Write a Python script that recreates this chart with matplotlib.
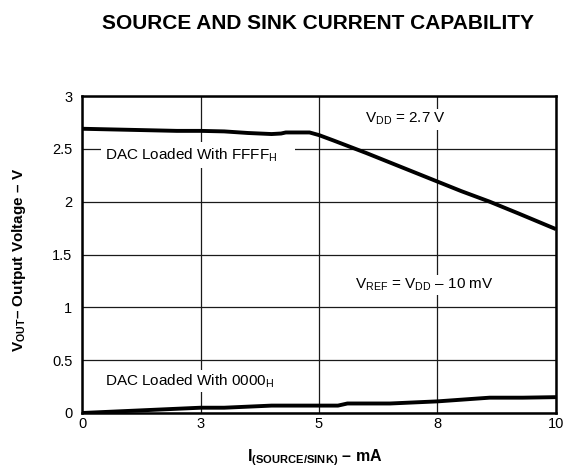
import matplotlib
matplotlib.use("Agg")
import matplotlib.pyplot as plt

plt.rcParams['font.family'] = ['Liberation Sans', 'DejaVu Sans']
plt.rcParams['mathtext.fontset'] = 'custom'
plt.rcParams['mathtext.rm'] = 'Liberation Sans'
plt.rcParams['mathtext.it'] = 'Liberation Sans:italic'
plt.rcParams['mathtext.bf'] = 'Liberation Sans:bold'

# output voltage vs load current, DAC at full scale (FFFFh)
i_high = [0, 1, 2, 2.5, 3, 3.5, 4, 4.2, 4.3, 4.8, 5.0, 5.3, 5.65, 6.0, 6.5,
          7.0, 7.5, 8.0, 8.6, 9.2, 10]
v_high = [2.69, 2.68, 2.67, 2.67, 2.665, 2.65, 2.64, 2.645, 2.655, 2.655, 2.63,
          2.58, 2.52, 2.46, 2.37, 2.28, 2.19, 2.10, 2.00, 1.89, 1.74]

# output voltage vs load current, DAC at zero scale (0000h)
i_low = [0, 1, 2, 2.5, 3, 4, 5, 5.4, 5.6, 6.5, 7.5, 8.6, 9.3, 10]
v_low = [0.0, 0.02, 0.04, 0.05, 0.05, 0.07, 0.07, 0.07, 0.09, 0.09, 0.11,
         0.145, 0.145, 0.15]

x_ticks = [0, 2.5, 5, 7.5, 10]
x_tick_labels = ['0', '3', '5', '8', '10']
y_ticks = [0, 0.5, 1, 1.5, 2, 2.5, 3]
y_tick_labels = ['0', '0.5', '1', '1.5', '2', '2.5', '3']

fig = plt.figure(figsize=(5.64, 4.72), dpi=100)
ax = fig.add_axes([0.1454, 0.125, 0.8404, 0.6716])

ax.plot(i_high, v_high, color='black', lw=2.8, solid_capstyle='butt', zorder=3)
ax.plot(i_low, v_low, color='black', lw=2.8, solid_capstyle='butt', zorder=3)

ax.set_xlim(0, 10)
ax.set_ylim(0, 3)
ax.set_xticks(x_ticks)
ax.set_xticklabels(x_tick_labels)
ax.set_yticks(y_ticks)
ax.set_yticklabels(y_tick_labels)
ax.tick_params(length=0, labelsize=10.5, pad=3)
ax.tick_params(axis='y', pad=7)
ax.grid(True, color='#1a1a1a', lw=0.9)
ax.set_axisbelow(True)
for s in ax.spines.values():
    s.set_linewidth(1.8)

box = dict(facecolor='white', edgecolor='none', pad=1.5)
ax.text(0.48, 2.44, 'DAC Loaded With FFFF$_\\mathrm{H}$    ', fontsize=11,
        va='center', ha='left', bbox=dict(facecolor='white', edgecolor='none', pad=3), zorder=2)
ax.text(5.97, 2.78, 'V$_\\mathrm{DD}$ = 2.7 V', fontsize=11,
        va='center', ha='left', bbox=box, zorder=2)
ax.text(5.76, 1.21, 'V$_\\mathrm{REF}$ = V$_\\mathrm{DD}$ \u2013 10 mV', fontsize=11,
        va='center', ha='left', bbox=box, zorder=2)
ax.text(0.48, 0.30, 'DAC Loaded With 0000$_\\mathrm{H}$', fontsize=11,
        va='center', ha='left', bbox=box, zorder=2)

fig.text(0.564, 0.951, 'SOURCE AND SINK CURRENT CAPABILITY', fontsize=15,
         fontweight='bold', ha='center', va='center')
fig.text(0.034, 0.45, '$\\mathbf{V}_{\\mathbf{OUT}}$\u2013 Output Voltage \u2013 V',
         fontsize=11, fontweight='bold', rotation=90, ha='center', va='center')
fig.text(0.558, 0.03, '$\\mathbf{I}_{\\mathbf{(SOURCE/SINK)}}$ \u2013 mA',
         fontsize=11.5, fontweight='bold', ha='center', va='center')

fig.savefig('out.png', dpi=100)
